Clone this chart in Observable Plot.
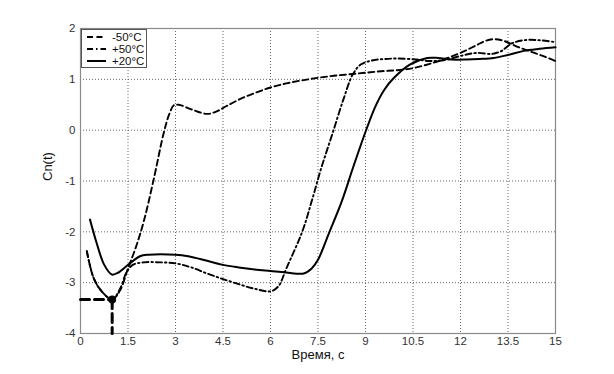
<!DOCTYPE html>
<html>
<head>
<meta charset="utf-8">
<script src="https://cdn.jsdelivr.net/npm/d3@7"></script>
<script src="https://cdn.jsdelivr.net/npm/@observablehq/plot@0.6"></script>
<style>
  html, body { margin: 0; padding: 0; background: #fff; }
  #wrap { position: relative; width: 614px; height: 374px; font-family: "Liberation Sans", Arial, sans-serif; }
  #legend { position: absolute; left: 81px; top: 29px; width: 64px; height: 37px; border: 1px solid #555; background: #fff; }
  #legend .row { position: absolute; left: 0; height: 12px; width: 64px; }
  #legend span { position: absolute; left: 30px; top: 0px; font-size: 11.5px; color: #111; line-height: 12px; }
  #legend svg { position: absolute; left: 5px; top: 0; }
</style>
</head>
<body>
<div id="wrap"></div>
<script>
// ---- data ----
const xTicks = [0, 1.5, 3, 4.5, 6, 7.5, 9, 10.5, 12, 13.5, 15];
const yTicks = [-4, -3, -2, -1, 0, 1, 2];
const seriesNames = ["-50°C", "+50°C", "+20°C"];

const minus50 = [
  [0.2,-2.38],[0.41,-2.9],[0.67,-3.17],[1.0,-3.33],[1.25,-3.15],[1.5,-2.72],[1.75,-2.3],
  [2.0,-1.79],[2.3,-1.0],[2.63,-0.05],[2.8,0.31],[2.95,0.49],[3.1,0.5],[3.5,0.41],
  [4.0,0.32],[4.3,0.37],[4.6,0.47],[5.0,0.6],[5.5,0.73],[6.0,0.84],[6.5,0.92],[7.0,0.98],
  [7.5,1.03],[8.0,1.07],[8.5,1.1],[9.0,1.13],[9.5,1.16],[10.0,1.18],[10.5,1.22],[11.0,1.3],
  [11.5,1.4],[12.0,1.52],[12.5,1.67],[12.8,1.76],[13.1,1.79],[13.4,1.75],[13.8,1.64],
  [14.2,1.55],[14.6,1.46],[15,1.36]
];
const plus50 = [
  [0.2,-2.38],[0.41,-2.9],[0.67,-3.17],[1.0,-3.33],[1.25,-3.12],[1.45,-2.8],[1.65,-2.65],
  [2.0,-2.6],[2.5,-2.6],[3.0,-2.62],[3.5,-2.7],[4.0,-2.82],[4.5,-2.93],[5.0,-3.03],
  [5.5,-3.12],[6.0,-3.17],[6.25,-3.07],[6.5,-2.72],[7.0,-2.0],[7.3,-1.4],[7.6,-0.75],
  [7.95,-0.08],[8.3,0.6],[8.6,1.1],[8.85,1.29],[9.2,1.37],[9.6,1.4],[10.0,1.41],[10.6,1.39],
  [11.0,1.36],[11.5,1.38],[12.0,1.46],[12.5,1.52],[13.0,1.5],[13.3,1.56],[13.6,1.7],
  [14.0,1.77],[14.5,1.77],[15,1.73]
];
const plus20 = [
  [0.3,-1.76],[0.5,-2.2],[0.75,-2.65],[0.99,-2.84],[1.2,-2.8],[1.52,-2.64],[1.88,-2.48],
  [2.15,-2.45],[3.0,-2.45],[3.4,-2.48],[4.0,-2.57],[4.5,-2.65],[5.0,-2.7],[5.5,-2.74],
  [6.0,-2.77],[6.5,-2.8],[7.05,-2.82],[7.3,-2.72],[7.5,-2.55],[7.85,-2.02],[8.25,-1.4],
  [8.6,-0.75],[8.95,-0.12],[9.3,0.45],[9.6,0.8],[9.9,1.03],[10.4,1.29],[10.95,1.42],
  [11.3,1.42],[11.7,1.39],[12.2,1.39],[12.6,1.4],[13.05,1.42],[13.5,1.48],[14.0,1.56],
  [14.5,1.6],[15,1.63]
];
const markPoint = [[1.0, -3.33]];
const markH = [[0, -3.33], [1.0, -3.33]];
const markV = [[1.0, -3.33], [1.0, -4]];

const styles = [
  {dash: "6,3.5", width: 1.9},
  {dash: "6,3,1.5,3", width: 1.9},
  {dash: null, width: 2}
];

const fmt = d => String(d);

const chart = Plot.plot({
  width: 614,
  height: 374,
  marginLeft: 80,
  marginRight: 59,
  marginTop: 28,
  marginBottom: 41,
  style: {fontFamily: "'Liberation Sans', Arial, sans-serif", fontSize: "11.5px", background: "transparent", color: "#333"},
  x: {domain: [0, 15]},
  y: {domain: [-4, 2]},
  marks: [
    Plot.gridX(xTicks, {stroke: "#555", strokeOpacity: 0.9, strokeDasharray: "1,2", strokeWidth: 1}),
    Plot.gridY(yTicks, {stroke: "#555", strokeOpacity: 0.9, strokeDasharray: "1,2", strokeWidth: 1}),
    Plot.frame({stroke: "#8a8a8a", strokeWidth: 1.2}),
    Plot.axisX(xTicks, {tickSize: 0, tickPadding: 3, tickFormat: fmt, label: null, fill: "#333"}),
    Plot.axisY(yTicks, {tickSize: 0, tickPadding: 5, tickFormat: fmt, label: null, fill: "#333"}),
    Plot.line(minus50, {x: d => d[0], y: d => d[1], curve: "catmull-rom", stroke: "#000", strokeWidth: styles[0].width, strokeDasharray: styles[0].dash}),
    Plot.line(plus50, {x: d => d[0], y: d => d[1], curve: "catmull-rom", stroke: "#000", strokeWidth: styles[1].width, strokeDasharray: styles[1].dash}),
    Plot.line(plus20, {x: d => d[0], y: d => d[1], curve: "catmull-rom", stroke: "#000", strokeWidth: styles[2].width}),
    Plot.line(markH, {x: d => d[0], y: d => d[1], stroke: "#000", strokeWidth: 3, strokeDasharray: "9,5"}),
    Plot.line(markV, {x: d => d[0], y: d => d[1], stroke: "#000", strokeWidth: 3, strokeDasharray: "9,5"}),
    Plot.dot(markPoint, {x: d => d[0], y: d => d[1], r: 4, fill: "#000"}),
    Plot.text(["Время, с"], {frameAnchor: "bottom", dy: 25, fontSize: 13, fill: "#111"}),
    Plot.text(["Cn(t)"], {frameAnchor: "left", dx: -33, rotate: -90, fontSize: 13, fill: "#111"})
  ]
});

const wrap = document.getElementById("wrap");
wrap.appendChild(chart);

// legend
const legend = document.createElement("div");
legend.id = "legend";
seriesNames.forEach((name, i) => {
  const row = document.createElement("div");
  row.className = "row";
  row.style.top = (1 + i * 11.8) + "px";
  const s = styles[i];
  row.innerHTML = `<svg width="19" height="12"><line x1="0" x2="19" y1="6" y2="6" stroke="#000" stroke-width="${s.width}" ${s.dash ? `stroke-dasharray="${s.dash}"` : ""}/></svg><span>${name}</span>`;
  legend.appendChild(row);
});
wrap.appendChild(legend);
</script>
</body>
</html>
